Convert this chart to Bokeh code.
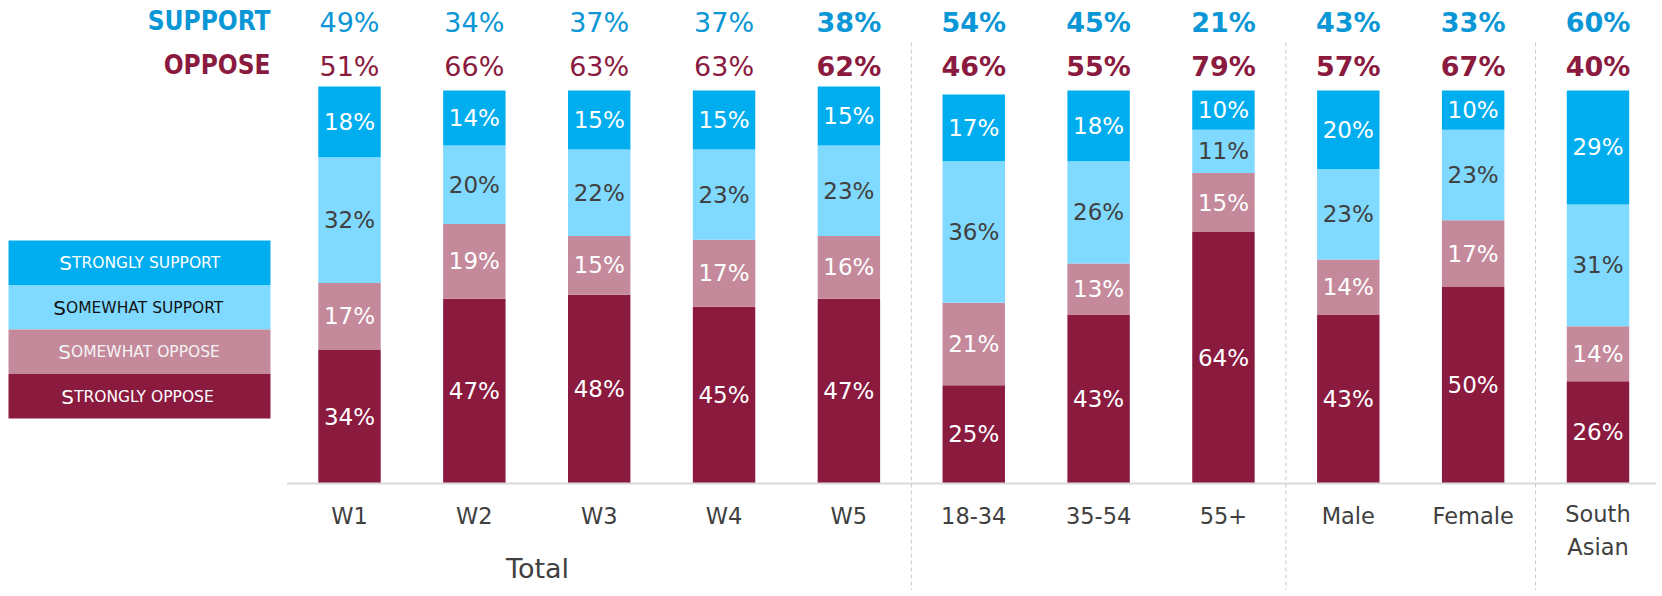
from bokeh.plotting import figure
from bokeh.models import Range1d, ColumnDataSource
from bokeh.core.properties import value
from bokeh.embed import file_html
from bokeh.resources import INLINE

# ---------------- data ----------------
categories = ["W1", "W2", "W3", "W4", "W5", "18-34", "35-54", "55+", "Male", "Female", "South\nAsian"]
strongly_support = [18, 14, 15, 15, 15, 17, 18, 10, 20, 10, 29]
somewhat_support = [32, 20, 22, 23, 23, 36, 26, 11, 23, 23, 31]
somewhat_oppose = [17, 19, 15, 17, 16, 21, 13, 15, 14, 17, 14]
strongly_oppose = [34, 47, 48, 45, 47, 25, 43, 64, 43, 50, 26]
support_total = [49, 34, 37, 37, 38, 54, 45, 21, 43, 33, 60]
oppose_total = [51, 66, 63, 63, 62, 46, 55, 79, 57, 67, 40]
bold_totals = [False, False, False, False, True, True, True, True, True, True, True]
group_label = "Total"
legend_labels = ["Strongly support", "Somewhat support", "Somewhat oppose", "Strongly oppose"]

# ---------------- style ----------------
C_SS = "#00AEEF"
C_SWS = "#80D9FF"
C_SWO = "#C48A9B"
C_SO = "#8B1A3F"
C_SUP_TXT = "#0B96D6"
C_OPP_TXT = "#8B1A3F"
GREY_TXT = "#404040"
NUM_FONT = "DejaVu Sans"
LBL_FONT = "DejaVu Sans Condensed"

W, H = 1656, 590
X0_PX, UX = 349.0, 124.85      # page x of first bar centre, px per category
Y0_PX, UY = 483.0, 3.93        # page y of baseline, px per percent


def px2x(px):
    return (px - X0_PX) / UX


def py2y(py):
    return (Y0_PX - py) / UY


p = figure(width=W, height=H, output_backend="svg", toolbar_location=None,
           x_range=Range1d(px2x(0), px2x(W)), y_range=Range1d(py2y(H), py2y(0)),
           x_axis_type=None, y_axis_type=None, min_border=0,
           outline_line_color=None)
p.grid.visible = False
p.background_fill_color = "white"
p.border_fill_color = "white"

n = len(categories)
xs = list(range(n))

src = ColumnDataSource(dict(x=xs, so=strongly_oppose, swo=somewhat_oppose,
                            sws=somewhat_support, ss=strongly_support))
p.vbar_stack(["so", "swo", "sws", "ss"], x="x", width=0.5, source=src,
             color=[C_SO, C_SWO, C_SWS, C_SS], line_color=None)

# segment labels
layers = [(strongly_oppose, "white"), (somewhat_oppose, "white"),
          (somewhat_support, GREY_TXT), (strongly_support, "white")]
base = [0] * n
for vals, col in layers:
    mids = [b + v / 2 for b, v in zip(base, vals)]
    p.text(x=xs, y=mids, text=[f"{v}%" for v in vals], text_color=col,
           text_font=value(NUM_FONT), text_font_size=value("23px"),
           text_align="center", text_baseline="middle")
    base = [b + v for b, v in zip(base, vals)]

# baseline axis line
p.segment(x0=[-0.5], y0=[0], x1=[px2x(W)], y1=[0], line_color="#d9d9d9", line_width=2)

# dashed separators
seps = [4.5, 7.5, 9.5]
p.segment(x0=seps, y0=[py2y(42)] * 3, x1=seps, y1=[py2y(H)] * 3,
          line_color="#c8c8c8", line_width=1, line_dash="4 3")

# totals rows
styles = ["bold" if b else "normal" for b in bold_totals]
tsrc = ColumnDataSource(dict(x=xs, sup=[f"{v}%" for v in support_total],
                             opp=[f"{v}%" for v in oppose_total], st=styles,
                             ys=[py2y(22)] * n, yo=[py2y(66)] * n))
p.text(x="x", y="ys", text="sup", source=tsrc, text_color=C_SUP_TXT,
       text_font=value(NUM_FONT), text_font_size=value("27px"), text_font_style="st",
       text_align="center", text_baseline="middle")
p.text(x="x", y="yo", text="opp", source=tsrc, text_color=C_OPP_TXT,
       text_font=value(NUM_FONT), text_font_size=value("27px"), text_font_style="st",
       text_align="center", text_baseline="middle")

# row titles
p.text(x=[px2x(270)], y=[py2y(20)], text=["SUPPORT"], text_color=C_SUP_TXT,
       text_font=value(LBL_FONT), text_font_size=value("26px"), text_font_style="bold",
       text_align="right", text_baseline="middle")
p.text(x=[px2x(270)], y=[py2y(64)], text=["OPPOSE"], text_color=C_OPP_TXT,
       text_font=value(LBL_FONT), text_font_size=value("26px"), text_font_style="bold",
       text_align="right", text_baseline="middle")

# category labels (multi-line labels centred a little lower)
cat_y = [py2y(530) if "\n" in c else py2y(515) for c in categories]
p.text(x=xs, y=cat_y, text=categories, text_color=GREY_TXT,
       text_font=value(NUM_FONT), text_font_size=value("22.5px"),
       text_align="center", text_baseline="middle", text_line_height=1.25)

# group label
p.text(x=[px2x(537)], y=[py2y(568)], text=[group_label], text_color=GREY_TXT,
       text_font=value(NUM_FONT), text_font_size=value("27px"),
       text_align="center", text_baseline="middle")

# legend (small caps rendered as a large initial + smaller capitals)
leg_tops = [240, 284.5, 329, 373.5]
leg_h = 44.5
leg_cols = [C_SS, C_SWS, C_SWO, C_SO]
leg_txt_cols = ["white", "#111111", "#f4f4f4", "white"]
leg_split = [71.5, 65.5, 70.5, 73.5]
p.quad(left=[px2x(8)] * 4, right=[px2x(270)] * 4,
       top=[py2y(t) for t in leg_tops], bottom=[py2y(t + leg_h) for t in leg_tops],
       fill_color=leg_cols, line_color=None)
for lab, t, tc, sx in zip(legend_labels, leg_tops, leg_txt_cols, leg_split):
    yb = py2y(t + leg_h / 2 + 0.5)
    p.text(x=[px2x(sx)], y=[yb], text=[lab[0].upper()], text_color=tc,
           text_font=value(NUM_FONT), text_font_size=value("20px"),
           text_align="right", text_baseline="alphabetic")
    p.text(x=[px2x(sx)], y=[yb], text=[lab[1:].upper()], text_color=tc,
           text_font=value(NUM_FONT), text_font_size=value("15.5px"),
           text_align="left", text_baseline="alphabetic")

open("out.html", "w").write(file_html(p, INLINE))
